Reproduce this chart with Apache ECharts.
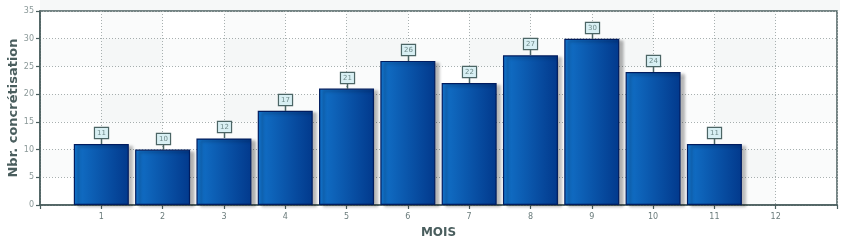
<!DOCTYPE html>
<html>
<head>
<meta charset="utf-8">
<script src="https://cdn.jsdelivr.net/npm/echarts@6/dist/echarts.min.js"></script>
<style>
html,body{margin:0;padding:0;background:#fff;}
#c{width:845px;height:244px;}
</style>
</head>
<body>
<div id="c"></div>
<script>
const months = ['1','2','3','4','5','6','7','8','9','10','11','12'];
const counts = [11,10,12,17,21,26,22,27,30,24,11,0];
const yTicks = [0,5,10,15,20,25,30,35];
const xTitle = 'MOIS';
const yTitle = 'Nbr. concrétisation';

const chart = echarts.init(document.getElementById('c'), null, {renderer:'canvas'});
const barData = months.map((m,i)=>[i+1, counts[i] > 0 ? counts[i] : null]);
const labelData = months.map((m,i)=>[i+1, counts[i]]).filter(d=>d[1]>0);

const axisColor = '#4a5e5e';
const option = {
  animation:false,
  backgroundColor:'#ffffff',
  graphic:[{
    type:'rect', left:40, top:0, shape:{width:800,height:11},
    style:{fill:'#f6f8f8'}, silent:true, z:-10
  }],
  grid:{left:40,right:8,top:11,bottom:39,containLabel:false,outerBoundsMode:'none',
    show:true,backgroundColor:'#ffffff',borderColor:axisColor,borderWidth:1.5},
  xAxis:{
    type:'value', min:0, max:months.length+1, interval:1,
    name:xTitle, nameLocation:'middle', nameGap:22, nameMoveOverlap:false,
    nameTextStyle:{fontFamily:'DejaVu Sans',fontWeight:'bold',fontSize:12,color:axisColor},
    axisLine:{lineStyle:{color:axisColor,width:1.5}},
    axisTick:{show:true,length:4,lineStyle:{color:axisColor,width:1.2}},
    axisLabel:{fontFamily:'DejaVu Sans',fontSize:8,color:'#6a7b7b',margin:8,
      formatter:v=>(v>=1&&v<=months.length)?months[v-1]:''},
    splitLine:{show:true,lineStyle:{color:'#a8b0b0',type:[1,2],width:1}},
    splitArea:{show:true,areaStyle:{color:['rgba(0,0,0,0)','rgba(60,80,80,0.025)']}}
  },
  yAxis:{
    type:'value', min:yTicks[0], max:yTicks[yTicks.length-1], interval:5,
    name:yTitle, nameLocation:'middle', nameGap:26, nameRotate:90, nameMoveOverlap:false,
    nameTextStyle:{fontFamily:'DejaVu Sans',fontWeight:'bold',fontSize:13,color:axisColor,verticalAlign:'middle'},
    axisLine:{show:true,lineStyle:{color:axisColor,width:1.5}},
    axisTick:{show:true,length:4,lineStyle:{color:axisColor,width:1.2}},
    axisLabel:{fontFamily:'DejaVu Sans',fontSize:8,color:'#8a9898',margin:6},
    splitLine:{show:true,lineStyle:{color:'#a8b0b0',type:[1,2],width:1}},
    splitArea:{show:true,areaStyle:{color:['rgba(0,0,0,0)','rgba(60,80,80,0.025)']}}
  },
  series:[{
    type:'bar',
    data:barData,
    barWidth:55,
    itemStyle:{
      color:new echarts.graphic.LinearGradient(0,0,1,0,[
        {offset:0,color:'#1272c9'},{offset:1,color:'#02398c'}]),
      borderColor:'#001c5e',borderWidth:1.2,
      shadowColor:'rgba(0,0,0,0.3)',shadowBlur:3,shadowOffsetX:4,shadowOffsetY:2
    },
    z:2
  },{
    type:'custom',
    data:labelData,
    z:5,
    renderItem:function(params,api){
      const p = api.coord([api.value(0),api.value(1)]);
      const x = Math.round(p[0])+0.5, y = Math.round(p[1]);
      return {type:'group',children:[
        {type:'line',shape:{x1:x,y1:y,x2:x,y2:y-6},style:{stroke:'#4c6565',lineWidth:1.5}},
        {type:'text',x:x,y:y-6,style:{
          text:String(api.value(1)),align:'center',verticalAlign:'bottom',
          fontFamily:'DejaVu Sans',fontSize:7,fill:'#6f8a8a',
          backgroundColor:'#d8eff3',borderColor:'#4c6565',borderWidth:1.2,
          padding:[2,2,1,2]}}
      ]};
    }
  }]
};
chart.setOption(option);
</script>
</body>
</html>
